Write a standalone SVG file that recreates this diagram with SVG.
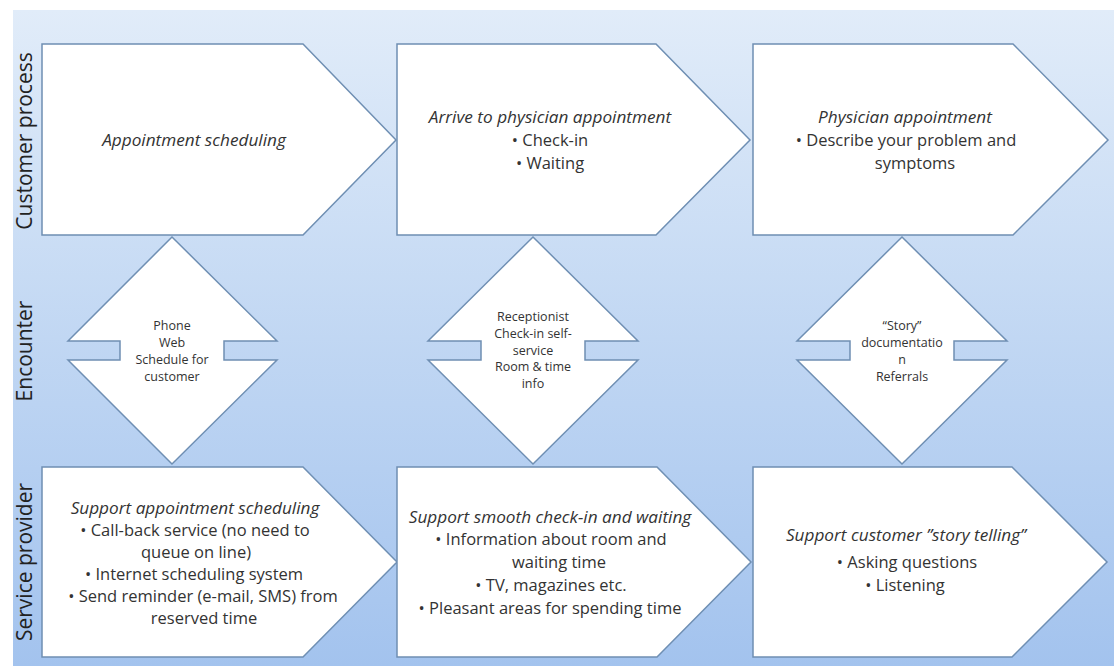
<svg xmlns="http://www.w3.org/2000/svg" width="1114" height="666" viewBox="0 0 1114 666">
<defs>
<linearGradient id="bg" x1="0" y1="0" x2="0" y2="1">
<stop offset="0" stop-color="#e1ecf9"/>
<stop offset="0.5" stop-color="#c1d7f3"/>
<stop offset="1" stop-color="#a3c3ee"/>
</linearGradient>
<style>
.shape{fill:#ffffff;stroke:#6f8fb3;stroke-width:1.5;stroke-linejoin:miter}
.lane{font-family:"Open Sans","DejaVu Sans",sans-serif;font-size:21px;fill:#222222;text-anchor:middle}
.t{font-family:"Open Sans","DejaVu Sans",sans-serif;font-size:16.5px;fill:#333333;text-anchor:middle}
.i{font-style:italic;font-size:17.2px}
.s{font-family:"Open Sans","DejaVu Sans",sans-serif;font-size:12.5px;fill:#333333;text-anchor:middle}
</style>
</defs>
<rect width="1114" height="666" fill="#ffffff"/>
<rect x="13" y="10" width="1101" height="656" fill="url(#bg)"/>

<g id="lane-labels">
<text class="lane" transform="translate(32,141) rotate(-90)">Customer process</text>
<text class="lane" transform="translate(32,351) rotate(-90)">Encounter</text>
<text class="lane" transform="translate(32,562) rotate(-90)">Service provider</text>
</g>

<g id="connectors"></g>

<g id="customer-1">
<path class="shape" d="M42,44 H303 L396,140 L303,235 H42 Z"/>
<text class="t i" x="194" y="146">Appointment scheduling</text>
</g>
<g id="customer-2">
<path class="shape" d="M397,44 H656 L750,140 L656,235 H397 Z"/>
<text class="t i" x="550" y="123">Arrive to physician appointment</text>
<text class="t" x="550" y="146">•  Check-in</text>
<text class="t" x="550" y="169">•  Waiting</text>
</g>
<g id="customer-3">
<path class="shape" d="M753,44 H1013 L1108,140 L1013,235 H753 Z"/>
<text class="t i" x="905" y="123">Physician appointment</text>
<text class="t" x="906" y="146">•  Describe your problem and</text>
<text class="t" x="915" y="169">symptoms</text>
</g>

<g id="encounter-1">
<path class="shape" d="M172,237 L277,341 H224 V360 H277 L172,464 L68,360 H120 V341 H68 Z"/>
<text class="s" x="172" y="330">Phone</text>
<text class="s" x="172" y="347">Web</text>
<text class="s" x="172" y="364">Schedule for</text>
<text class="s" x="172" y="381">customer</text>
</g>
<g id="encounter-2">
<path class="shape" d="M533,237 L638,341 H585 V360 H638 L533,464 L428,360 H481 V341 H428 Z"/>
<text class="s" x="533" y="321">Receptionist</text>
<text class="s" x="533" y="338">Check-in self-</text>
<text class="s" x="533" y="355">service</text>
<text class="s" x="533" y="371">Room &amp; time</text>
<text class="s" x="533" y="388">info</text>
</g>
<g id="encounter-3">
<path class="shape" d="M902,237 L1007,341 H954 V360 H1007 L902,464 L797,360 H850 V341 H797 Z"/>
<text class="s" x="902" y="330">“Story”</text>
<text class="s" x="902" y="347">documentatio</text>
<text class="s" x="902" y="364">n</text>
<text class="s" x="902" y="381">Referrals</text>
</g>

<g id="provider-1">
<path class="shape" d="M42,467 H303 L397,562 L303,657 H42 Z"/>
<text class="t i" x="195" y="514">Support appointment scheduling</text>
<text class="t" x="195" y="536">•  Call-back service (no need to</text>
<text class="t" x="196" y="558">queue on line)</text>
<text class="t" x="194" y="580">•  Internet scheduling system</text>
<text class="t" x="203" y="602">•  Send reminder (e-mail, SMS) from</text>
<text class="t" x="204" y="624">reserved time</text>
</g>
<g id="provider-2">
<path class="shape" d="M397,467 H657 L751,562 L657,657 H397 Z"/>
<text class="t i" x="550" y="523">Support smooth check-in and waiting</text>
<text class="t" x="551" y="545">•  Information about room and</text>
<text class="t" x="559" y="568">waiting time</text>
<text class="t" x="551" y="591">•  TV, magazines etc.</text>
<text class="t" x="550" y="614">•  Pleasant areas for spending time</text>
</g>
<g id="provider-3">
<path class="shape" d="M753,467 H1012 L1107,562 L1012,657 H753 Z"/>
<text class="t i" x="906" y="541">Support customer ”story telling”</text>
<text class="t" x="907" y="568">•  Asking questions</text>
<text class="t" x="905" y="591">•  Listening</text>
</g>
</svg>
